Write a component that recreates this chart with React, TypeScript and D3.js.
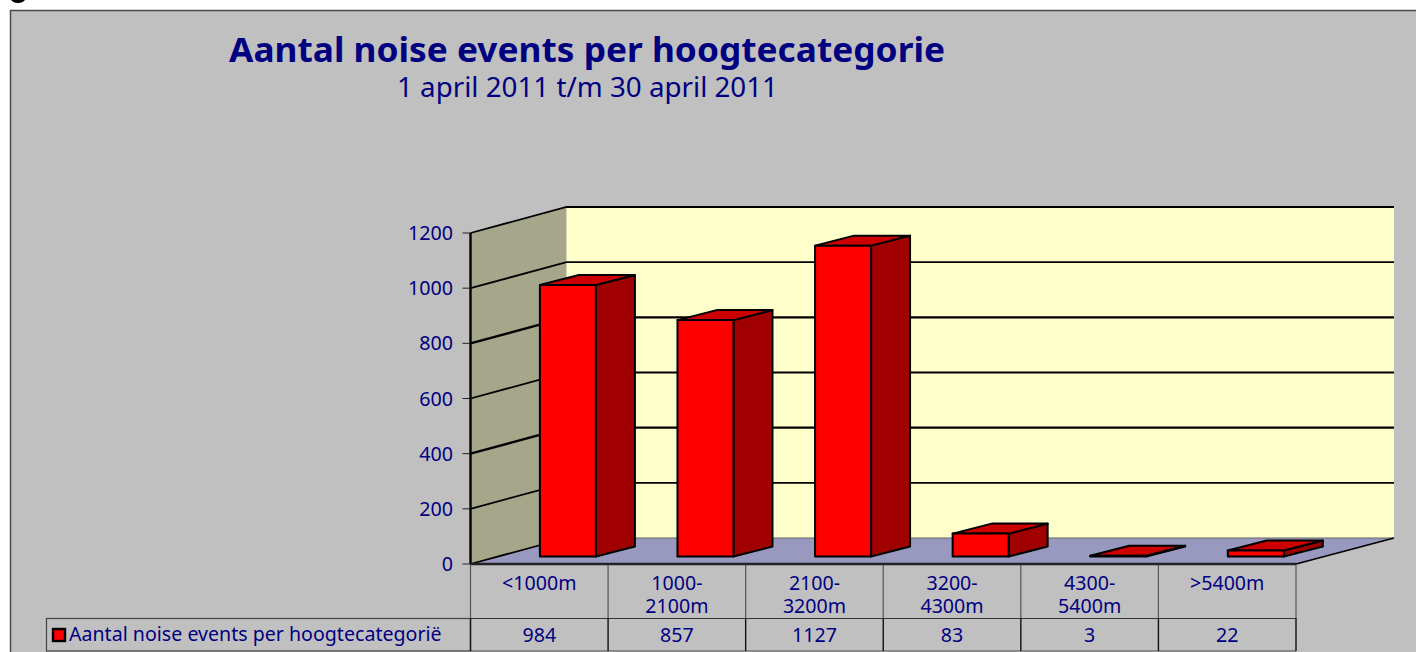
import React from "react";
import * as d3 from "d3";

const categories = [["<1000m"], ["1000-", "2100m"], ["2100-", "3200m"], ["3200-", "4300m"], ["4300-", "5400m"], [">5400m"]];
const values = [984, 857, 1127, 83, 3, 22];
const yTicks = [0, 200, 400, 600, 800, 1000, 1200];
const seriesName = "Aantal noise events per hoogtecategorië";
const titleText = "Aantal noise events per hoogtecategorie";
const subtitleText = "1 april 2011 t/m 30 april 2011";

const W = 1416, H = 652;
const font = "'Noto Sans', sans-serif";
const navy = "#000080";
const x0 = 470.5, x1 = 1296, y0 = 564, yTop = 233;
const dx = 96, dy = -26;
const barLift = 7.5, barShift = 28.6, barW = 56, sideDx = 39, sideDy = -10;

const y = d3.scaleLinear().domain([0, 1200]).range([y0, yTop]);
const band = d3.scaleBand<number>().domain(d3.range(6)).range([x0, x1]);
const pts = (p: number[][]) => p.map((a) => a.join(",")).join(" ");

export default function App() {
  return (
    <svg width={W} height={H} style={{ position: "absolute", left: 0, top: 0, background: "#fff", fontFamily: font }}>
      <ellipse cx={18} cy={-1} rx={7} ry={4} fill="#000" />
      <rect x={10.5} y={10.5} width={W} height={H} fill="#c0c0c0" stroke="#4a4a4a" strokeWidth={1.5} />
      <text x={587} y={62} textAnchor="middle" fill={navy} fontSize={34} fontWeight={700} textLength={716} lengthAdjust="spacingAndGlyphs">{titleText}</text>
      <text x={587.5} y={97} textAnchor="middle" fill={navy} fontSize={27} textLength={381} lengthAdjust="spacingAndGlyphs">{subtitleText}</text>

      {/* walls */}
      <polygon points={pts([[x0, y0], [x0 + dx, y0 + dy], [x1 + dx + 2, y0 + dy], [x1, y0]])} fill="#9999c0" />
      <polygon points={pts([[x0, y0], [x0, yTop], [x0 + dx, yTop + dy], [x0 + dx, y0 + dy]])} fill="#a6a68a" />
      <rect x={x0 + dx} y={yTop + dy} width={x1 + 2 - x0} height={y0 - yTop} fill="#ffffcc" />
      {yTicks.map((t) => (
        <g key={t}>
          <line x1={x0 - 8} x2={x0} y1={y(t)} y2={y(t)} stroke="#222" strokeWidth={1} />
          {t > 0 && (
            <polyline points={pts([[x0, y(t)], [x0 + dx, y(t) + dy], [x1 + dx + 2, y(t) + dy]])} fill="none" stroke="#000" strokeWidth={t % 400 === 0 && t !== 1200 ? 2.4 : 1.8} />
          )}
          <text x={453} y={y(t) + 7} textAnchor="end" fill={navy} fontSize={19.7}>{t}</text>
        </g>
      ))}
      <line x1={x0} x2={x0 + dx} y1={y0} y2={y0 + dy} stroke="#000" strokeWidth={1.8} />
      <line x1={x0 + dx} x2={x1 + dx + 2} y1={y0 + dy} y2={y0 + dy} stroke="#666" strokeWidth={1.2} />
      <line x1={x1} x2={x1 + dx + 2} y1={y0} y2={y0 + dy} stroke="#000" strokeWidth={1.8} />
      <line x1={x0} x2={x0} y1={yTop} y2={y0} stroke="#000" strokeWidth={2.4} />
      <line x1={x0} x2={x1} y1={y0} y2={y0} stroke="#222" strokeWidth={2.4} />

      {/* bars */}
      {values.map((v, i) => {
        const left = band(i)! + (band.bandwidth() - barW) / 2 + barShift;
        const bottom = y0 - barLift;
        const top = y(v) - barLift;
        const right = left + barW;
        return (
          <g key={i} stroke="#000" strokeWidth={2} strokeLinejoin="round">
            <polygon points={pts([[right, bottom], [right, top], [right + sideDx, top + sideDy], [right + sideDx, bottom + sideDy]])} fill="#a00000" />
            <polygon points={pts([[left, top], [right, top], [right + sideDx, top + sideDy], [left + sideDx, top + sideDy]])} fill="#cc0000" />
            <rect x={left} y={top} width={barW} height={bottom - top} fill="#ff0000" />
          </g>
        );
      })}

      {/* data table */}
      <rect x={46.5} y={618.5} width={x0 - 46.5} height={32.5} fill="none" stroke="#444" strokeWidth={1.2} />
      <line x1={x0} x2={x1} y1={618.5} y2={618.5} stroke="#333" strokeWidth={1.2} />
      <line x1={x0} x2={x1} y1={651} y2={651} stroke="#555" strokeWidth={1.2} />
      {d3.range(7).map((i) => {
        const xx = i === 6 ? x1 : band(i)!;
        return (
          <g key={i}>
            <line x1={xx} x2={xx} y1={565} y2={618} stroke="#555" strokeWidth={1.2} />
            <line x1={xx} x2={xx} y1={618} y2={651} stroke="#111" strokeWidth={1.4} />
          </g>
        );
      })}
      <rect x={53} y={629} width={12} height={12} fill="#ff0000" stroke="#000" strokeWidth={2.4} />
      <text x={69} y={641} fill={navy} fontSize={19.6}>{seriesName}</text>
      {categories.map((lines, i) => {
        const cx = band(i)! + band.bandwidth() / 2;
        return (
          <g key={i}>
            <text textAnchor="middle" fill={navy} fontSize={19.6}>
              {lines.map((l, j) => (
                <tspan key={j} x={cx} y={589.5 + j * 23.5}>{l}</tspan>
              ))}
            </text>
            <text x={cx} y={641.5} textAnchor="middle" fill={navy} fontSize={19.6}>{values[i]}</text>
          </g>
        );
      })}
    </svg>
  );
}
